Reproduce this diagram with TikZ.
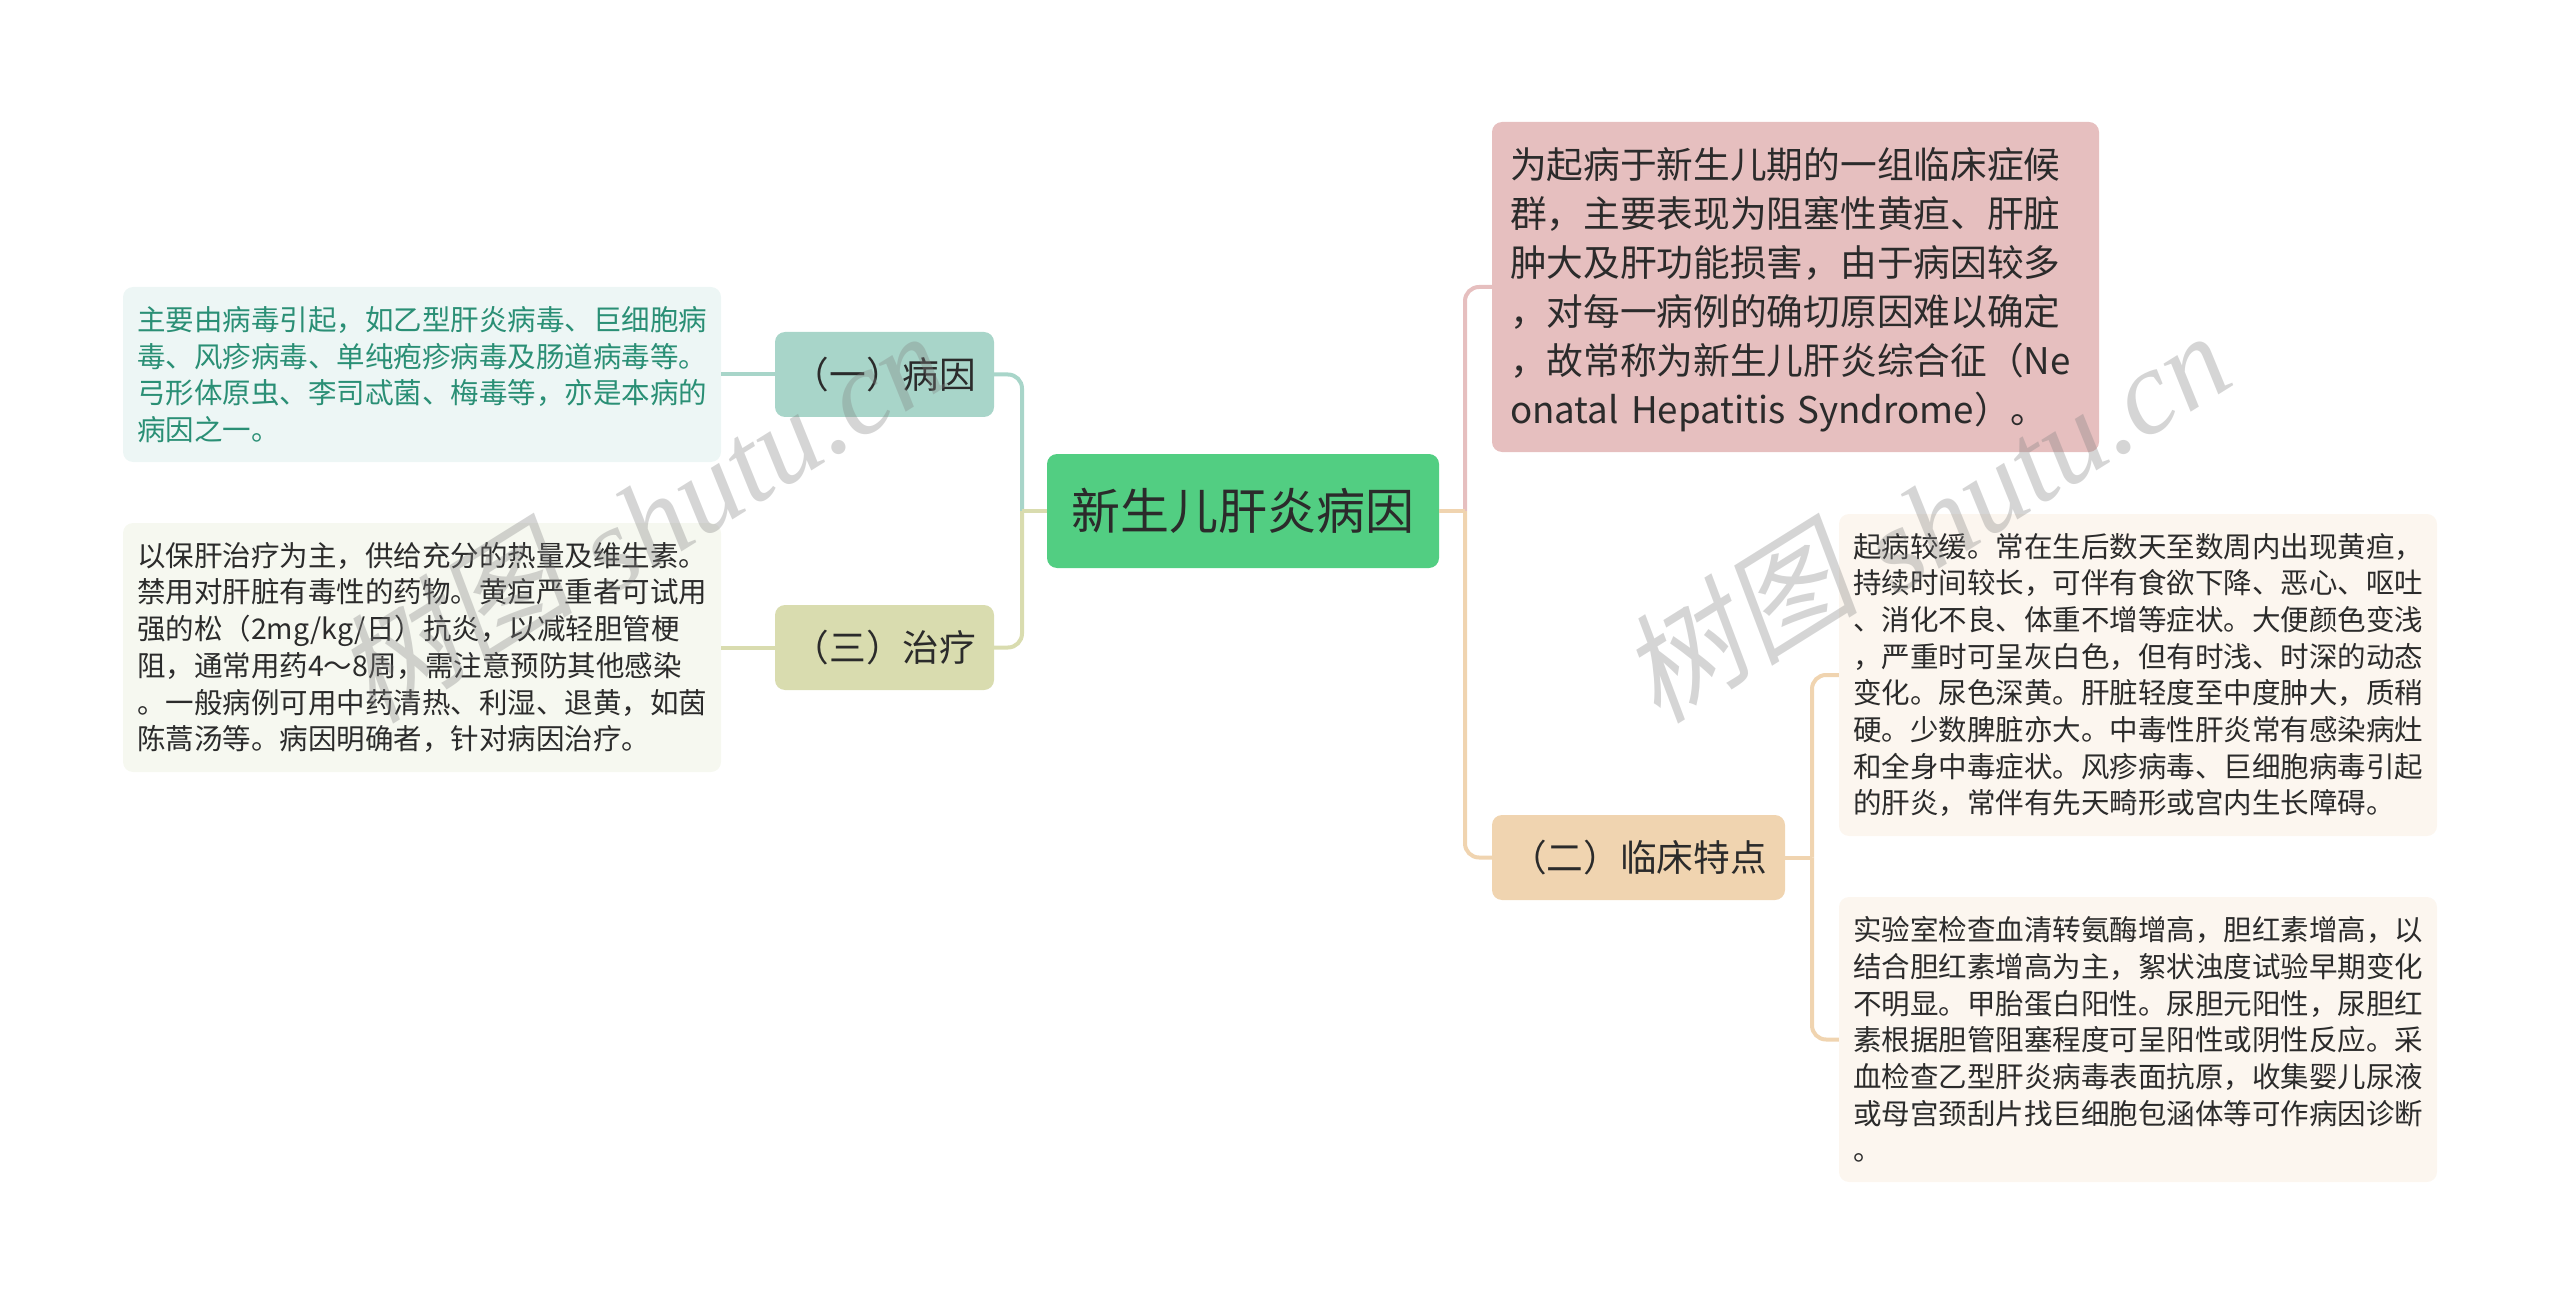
\documentclass[tikz,border=0pt]{standalone}
\usepackage{fontspec}
\setmainfont{Noto Sans CJK SC}
\newfontfamily\wmcjk[FakeSlant=0.2]{Noto Sans CJK SC}
\newfontfamily\wmlat{Liberation Serif Italic}
\definecolor{rootc}{HTML}{52CE82}
\definecolor{onec}{HTML}{A8D5C9}
\definecolor{threec}{HTML}{D9DCAF}
\definecolor{pinkc}{HTML}{E6BFBF}
\definecolor{twoc}{HTML}{F0D4B0}
\definecolor{leafa}{HTML}{EDF6F5}
\definecolor{leafb}{HTML}{F6F8F0}
\definecolor{leafc}{HTML}{FCF6EF}
\definecolor{leaftxt}{HTML}{2A8F75}
\definecolor{ink}{HTML}{2B2B2B}
\tikzset{
  box/.style={rounded corners=10pt,inner sep=0pt,align=left,text=ink,anchor=center},
  leaffont/.style={font=\fontsize{28.5pt}{36.7pt}\selectfont},
  midfont/.style={font=\fontsize{36.7pt}{49pt}\selectfont},
  rootfont/.style={font=\fontsize{49pt}{60pt}\selectfont},
  link/.style={line width=4pt,rounded corners=14pt},
  stub/.style={line width=4pt},
  wm/.style={text=gray,opacity=0.33,rotate=32,anchor=center,font=\fontsize{120pt}{130pt}\selectfont}
}
\begin{document}
\begin{tikzpicture}[x=1pt,y=-1pt]
\useasboundingbox (0,0) rectangle (2560,1305);
% connectors' free corners
\coordinate (tl) at (1022,511);
\coordinate (tr) at (1465,511);
\coordinate (tt) at (1812,857.5);
% nodes
\node[box,rootfont,fill=rootc,minimum width=392pt,minimum height=114pt] (root) at (1243,511) {新生儿肝炎病因};
\node[box,midfont,fill=onec,minimum width=219pt,minimum height=85pt] (one) at (884.5,374.5) {（一）病因};
\node[box,midfont,fill=threec,minimum width=219pt,minimum height=85pt] (three) at (884.5,647.5) {（三）治疗};
\node[box,midfont,fill=pinkc,text width=571pt,inner xsep=18pt,minimum height=330pt] (pink) at (1795.5,287) {\rule{0pt}{36pt}为起病于新生儿期的一组临床症候\\群，主要表现为阻塞性黄疸、肝脏\\肿大及肝功能损害，由于病因较多\\，对每一病例的确切原因难以确定\\，故常称为新生儿肝炎综合征（Ne\\onatal Hepatitis Syndrome）。};
\node[box,midfont,fill=twoc,minimum width=293pt,minimum height=85pt] (two) at (1638.5,857.5) {（二）临床特点};
\node[box,leaffont,fill=leafa,text=leaftxt,minimum width=598pt,minimum height=175pt] (la) at (422,374.5) {主要由病毒引起，如乙型肝炎病毒、巨细胞病\\毒、风疹病毒、单纯疱疹病毒及肠道病毒等。\\弓形体原虫、李司忒菌、梅毒等，亦是本病的\\病因之一。};
\node[box,leaffont,fill=leafb,minimum width=598pt,minimum height=249pt] (lb) at (422,647.5) {以保肝治疗为主，供给充分的热量及维生素。\\禁用对肝脏有毒性的药物。黄疸严重者可试用\\强的松（2mg/kg/日）抗炎，以减轻胆管梗\\阻，通常用药4～8周，需注意预防其他感染\\。一般病例可用中药清热、利湿、退黄，如茵\\陈蒿汤等。病因明确者，针对病因治疗。};
\node[box,leaffont,fill=leafc,minimum width=598pt,minimum height=322pt] (ra) at (2138,675) {起病较缓。常在生后数天至数周内出现黄疸，\\持续时间较长，可伴有食欲下降、恶心、呕吐\\、消化不良、体重不增等症状。大便颜色变浅\\，严重时可呈灰白色，但有时浅、时深的动态\\变化。尿色深黄。肝脏轻度至中度肿大，质稍\\硬。少数脾脏亦大。中毒性肝炎常有感染病灶\\和全身中毒症状。风疹病毒、巨细胞病毒引起\\的肝炎，常伴有先天畸形或宫内生长障碍。};
\node[box,leaffont,fill=leafc,minimum width=598pt,minimum height=285pt] (rb) at (2138,1039.5) {实验室检查血清转氨酶增高，胆红素增高，以\\结合胆红素增高为主，絮状浊度试验早期变化\\不明显。甲胎蛋白阳性。尿胆元阳性，尿胆红\\素根据胆管阻塞程度可呈阳性或阴性反应。采\\血检查乙型肝炎病毒表面抗原，收集婴儿尿液\\或母宫颈刮片找巨细胞包涵体等可作病因诊断\\。};
% connectors
\draw[link,color=onec] (tl) |- (one.east);
\draw[link,color=threec] (tl) |- (three.east);
\draw[stub,color=threec] (root.west) -- (tl);
\draw[stub,color=onec] (one.west) -- (la.east);
\draw[stub,color=threec] (three.west) -- (lb.east);
\draw[link,color=pinkc] (tr) |- (pink.west);
\draw[link,color=twoc] (tr) |- (two.west);
\draw[stub,color=twoc] (root.east) -- (tr);
\draw[link,color=twoc] (tt) |- (ra.west);
\draw[link,color=twoc] (tt) |- (rb.west);
\draw[stub,color=twoc] (two.east) -- (tt);
% watermark
\node[wm] (wma) at (1922,512) {\raisebox{16pt}{\wmcjk 树图}\hspace{30pt}{\wmlat shutu.cn}};
\node[wm] (wmb) at (637,512) {\raisebox{16pt}{\wmcjk 树图}\hspace{30pt}{\wmlat shutu.cn}};
\end{tikzpicture}
\end{document}
